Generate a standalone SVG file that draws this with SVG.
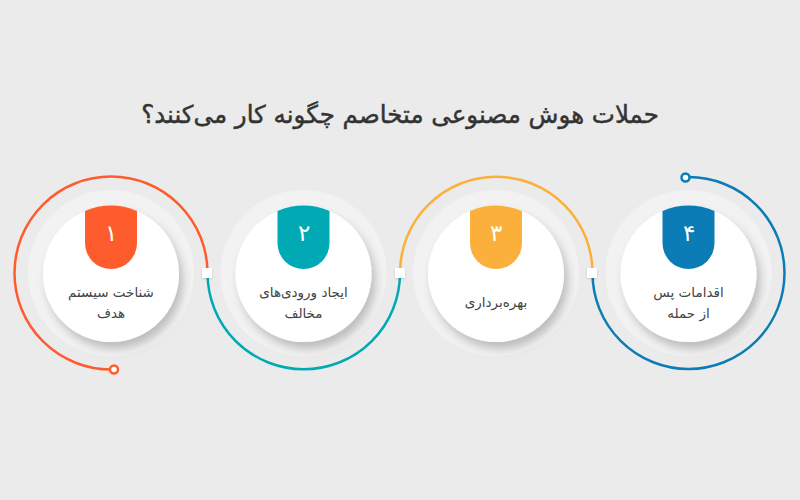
<svg xmlns="http://www.w3.org/2000/svg" width="800" height="500" viewBox="0 0 800 500">
  <defs>
    <filter id="sh" x="-30%" y="-30%" width="170%" height="170%">
      <feDropShadow dx="4" dy="7" stdDeviation="5" flood-color="#000" flood-opacity="0.22"/>
    </filter>
    <filter id="sqsh" x="-50%" y="-50%" width="200%" height="200%">
      <feDropShadow dx="0" dy="1" stdDeviation="1" flood-color="#000" flood-opacity="0.15"/>
    </filter>
  </defs>
  <style>
    .title{font-family:"DejaVu Sans","Noto Sans",sans-serif;font-size:24.5px;fill:#333;stroke:#333;stroke-width:0.45px}
    .lbl{font-family:"DejaVu Sans","Noto Sans",sans-serif;font-size:13.5px;fill:#444}
    .num{font-family:"DejaVu Sans","Noto Sans",sans-serif;font-size:23px;fill:#fff;font-weight:200}
    .halo{fill:#f2f2f2}
    .disc{fill:#fff}
    .arc{fill:none;stroke-width:2.5}
    .sq{fill:#fff}
  </style>
  <rect width="800" height="500" fill="#ebebeb"/>
  <text class="title" x="400" y="123" text-anchor="middle" direction="rtl">حملات هوش مصنوعی متخاصم چگونه کار می‌کنند؟</text>

  <g id="connectors">
    <path class="arc" stroke="#ff5c2e" d="M207.5,273 A96.5,96.5 0 1 0 111,369.5"/>
    <circle cx="114" cy="369.5" r="4" fill="#fff" stroke="#ff5c2e" stroke-width="2.5"/>
    <path class="arc" stroke="#01a9b4" d="M207.5,273 A96.25,96.25 0 0 0 400,273"/>
    <path class="arc" stroke="#fbb03b" d="M400,273 A96.25,96.25 0 0 1 592.5,273"/>
    <path class="arc" stroke="#0b7cb5" d="M592.5,273 A96,96 0 1 0 688.5,177"/>
    <circle cx="685.5" cy="177.5" r="4" fill="#fff" stroke="#0b7cb5" stroke-width="2.5"/>
    <rect class="sq" x="202" y="268" width="10" height="10" filter="url(#sqsh)"/>
    <rect class="sq" x="395" y="268" width="10" height="10" filter="url(#sqsh)"/>
    <rect class="sq" x="587" y="268" width="10" height="10" filter="url(#sqsh)"/>
  </g>

  <g id="node1">
    <circle class="halo" cx="111" cy="273" r="83"/>
    <circle class="disc" cx="111" cy="274" r="68" filter="url(#sh)"/>
    <path fill="#ff5c2e" d="M85,211 L85,243 A26,26 0 0 0 137,243 L137,211 A68,68 0 0 0 85,211 Z"/>
    <text class="num" x="111" y="241" text-anchor="middle">۱</text>
    <text class="lbl" x="111" y="297" text-anchor="middle" direction="rtl">شناخت سیستم</text>
    <text class="lbl" x="111" y="318" text-anchor="middle" direction="rtl">هدف</text>
  </g>

  <g id="node2">
    <circle class="halo" cx="303.5" cy="273" r="83"/>
    <circle class="disc" cx="303.5" cy="274" r="68" filter="url(#sh)"/>
    <path fill="#01a9b4" d="M277.5,211 L277.5,243 A26,26 0 0 0 329.5,243 L329.5,211 A68,68 0 0 0 277.5,211 Z"/>
    <text class="num" x="303.5" y="241" text-anchor="middle">۲</text>
    <text class="lbl" x="303.5" y="297" text-anchor="middle" direction="rtl">ایجاد ورودی‌های</text>
    <text class="lbl" x="303.5" y="318" text-anchor="middle" direction="rtl">مخالف</text>
  </g>

  <g id="node3">
    <circle class="halo" cx="496" cy="273" r="83"/>
    <circle class="disc" cx="496" cy="274" r="68" filter="url(#sh)"/>
    <path fill="#fbb03b" d="M470,211 L470,243 A26,26 0 0 0 522,243 L522,211 A68,68 0 0 0 470,211 Z"/>
    <text class="num" x="496" y="241" text-anchor="middle">۳</text>
    <text class="lbl" x="496" y="307" text-anchor="middle" direction="rtl">بهره‌برداری</text>
  </g>

  <g id="node4">
    <circle class="halo" cx="688.5" cy="273" r="83"/>
    <circle class="disc" cx="688.5" cy="274" r="68" filter="url(#sh)"/>
    <path fill="#0b7cb5" d="M662.5,211 L662.5,243 A26,26 0 0 0 714.5,243 L714.5,211 A68,68 0 0 0 662.5,211 Z"/>
    <text class="num" x="688.5" y="241" text-anchor="middle">۴</text>
    <text class="lbl" x="688.5" y="297" text-anchor="middle" direction="rtl">اقدامات پس</text>
    <text class="lbl" x="688.5" y="318" text-anchor="middle" direction="rtl">از حمله</text>
  </g>
</svg>
